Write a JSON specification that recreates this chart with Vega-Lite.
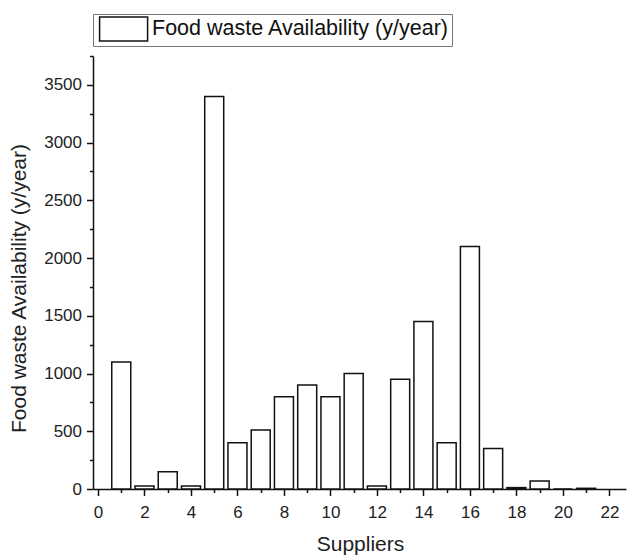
{
  "$schema": "https://vega.github.io/schema/vega-lite/v6.json",
  "width": 533,
  "height": 433,
  "autosize": "none",
  "padding": {"left": 93, "top": 56, "right": 1, "bottom": 66},
  "background": "white",
  "config": {
    "view": {"stroke": null},
    "font": "Liberation Sans",
    "axis": {"grid": false, "domainColor": "#111", "domainWidth": 1.5, "tickColor": "#111", "tickWidth": 1.5, "labelFont": "Liberation Sans", "titleFont": "Liberation Sans", "labelColor": "#222", "titleColor": "#222", "titleFontWeight": "normal"},
    "legend": {"labelFont": "Liberation Sans"}
  },
  "data": {
    "values": [
      {"supplier": 1, "value": 1100},
      {"supplier": 2, "value": 25},
      {"supplier": 3, "value": 150},
      {"supplier": 4, "value": 25},
      {"supplier": 5, "value": 3400},
      {"supplier": 6, "value": 400},
      {"supplier": 7, "value": 510},
      {"supplier": 8, "value": 800},
      {"supplier": 9, "value": 900},
      {"supplier": 10, "value": 800},
      {"supplier": 11, "value": 1000},
      {"supplier": 12, "value": 25},
      {"supplier": 13, "value": 950},
      {"supplier": 14, "value": 1450},
      {"supplier": 15, "value": 400},
      {"supplier": 16, "value": 2100},
      {"supplier": 17, "value": 350},
      {"supplier": 18, "value": 12},
      {"supplier": 19, "value": 70},
      {"supplier": 20, "value": 0},
      {"supplier": 21, "value": 6}
    ]
  },
  "layer": [
    {
      "mark": {"type": "bar", "size": 19, "stroke": "#111", "strokeWidth": 1.5, "fillOpacity": 1},
      "encoding": {
        "x": {
          "field": "supplier", "type": "quantitative",
          "scale": {"domain": [0, 22.5], "nice": false, "zero": false},
          "axis": {"values": [0, 2, 4, 6, 8, 10, 12, 14, 16, 18, 20, 22], "format": "d", "tickSize": 6.5, "labelFontSize": 17, "labelPadding": 9, "labelFlush": false, "title": "Suppliers", "titleFontSize": 21, "titleBaseline": "alphabetic", "titleY": 61, "titleX": 267, "titleAlign": "center"}
        },
        "y": {
          "field": "value", "type": "quantitative",
          "scale": {"domain": [0, 3750], "nice": false},
          "axis": {"values": [0, 500, 1000, 1500, 2000, 2500, 3000, 3500], "format": "d", "tickSize": 6.5, "labelFontSize": 17, "labelPadding": 5, "labelFlush": false, "title": "Food waste Availability (y/year)", "titleFontSize": 21, "titleAngle": -90, "titleBaseline": "alphabetic", "titleAlign": "center", "titleX": -68, "titleY": 232}
        },
        "color": {
          "datum": "Food waste Availability (y/year)",
          "type": "nominal",
          "scale": {"range": ["white"]},
          "legend": {
            "title": null,
            "orient": "none",
            "legendX": 0,
            "legendY": -42,
            "strokeColor": "#777",
            "padding": 2,
            "symbolType": "M-0.7,-1H3.3V1H-0.7Z",
            "symbolSize": 576,
            "symbolStrokeColor": "#111",
            "symbolStrokeWidth": 1.5,
            "symbolFillColor": "white",
            "labelFontSize": 21.5,
            "labelColor": "#111",
            "labelOffset": 31,
            "labelLimit": 500,
            "labelExpr": "datum.label + '\u00a0\u00a0\u00a0\u00a0'"
          }
        }
      }
    },
    {
      "mark": {"type": "bar", "size": 19, "opacity": 0},
      "encoding": {
        "x": {
          "field": "supplier", "type": "quantitative",
          "axis": {"orient": "bottom", "values": [1, 3, 5, 7, 9, 11, 13, 15, 17, 19, 21], "tickSize": 3.5, "labels": false, "domain": false, "title": null}
        },
        "y": {
          "field": "value", "type": "quantitative",
          "axis": {"orient": "left", "values": [250, 750, 1250, 1750, 2250, 2750, 3250, 3750], "tickSize": 3.5, "labels": false, "domain": false, "title": null}
        }
      }
    }
  ],
  "resolve": {"axis": {"x": "independent", "y": "independent"}}
}
